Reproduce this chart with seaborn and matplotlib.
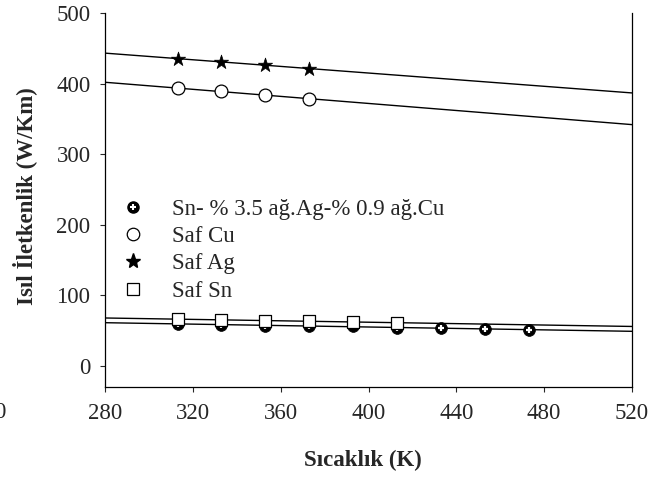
import numpy as np
import pandas as pd
import matplotlib
matplotlib.use("Agg")
import matplotlib.pyplot as plt
from matplotlib.lines import Line2D
import seaborn as sns

# data
T_alloy = [313, 333, 353, 373, 393, 413, 433, 453, 473]
k_alloy = [59, 58, 57, 57, 56, 54, 53, 52, 51]
T_cu = [313, 333, 353, 373]
k_cu = [393, 389, 384, 378]
T_ag = [313, 333, 353, 373]
k_ag = [435, 431, 426, 421]
T_sn = [313, 333, 353, 373, 393, 413]
k_sn = [66, 65, 64, 63, 62, 61]

labels = ["Sn- % 3.5 ağ.Ag-% 0.9 ağ.Cu", "Saf Cu", "Saf Ag", "Saf Sn"]
xticks = [280, 320, 360, 400, 440, 480, 520]
yticks = [0, 100, 200, 300, 400, 500]

FS = 16.5

sns.set_style("ticks")
plt.rcParams['font.family'] = ['Liberation Serif', 'DejaVu Serif']
plt.rcParams['font.size'] = FS

fig = plt.figure(figsize=(6.61, 4.8), dpi=100)
ax = fig.add_axes([0.159, 0.194, 0.797, 0.779])
ax.set_xlim(280, 520)
ax.set_ylim(-30, 500)

# fitted lines across the whole axis
for T, k in [(T_alloy, k_alloy), (T_cu, k_cu), (T_ag, k_ag), (T_sn, k_sn)]:
    sns.regplot(x=T, y=k, ax=ax, scatter=False, ci=None, truncate=False,
                line_kws=dict(color='black', lw=1.0, zorder=2))

# alloy: black dot with a white cross
sns.scatterplot(x=T_alloy, y=k_alloy, ax=ax, marker='o', s=72, color='black',
                edgecolor='black', linewidth=0.5, zorder=3)
ax.scatter(T_alloy, k_alloy, marker='+', s=20, color='white', linewidths=1.6, zorder=4)
sns.scatterplot(x=T_sn, y=k_sn, ax=ax, marker='s', s=82, color='white',
                edgecolor='black', linewidth=0.9, zorder=5)
sns.scatterplot(x=T_cu, y=k_cu, ax=ax, marker='o', s=85, color='white',
                edgecolor='black', linewidth=0.9, zorder=5)
sns.scatterplot(x=T_ag, y=k_ag, ax=ax, marker='*', s=115, color='black',
                edgecolor='black', linewidth=0.5, zorder=5)

ax.set_xticks(xticks)
ax.set_yticks(yticks)
ax.tick_params(direction='out', length=3.5, width=0.8, labelsize=FS)
ax.tick_params(axis='x', pad=8)
ax.tick_params(axis='y', pad=7)
sns.despine(ax=ax, top=True, right=False)
for s in ['left', 'bottom', 'right']:
    ax.spines[s].set_linewidth(0.9)
    ax.spines[s].set_color('black')

ax.set_xlabel("Sıcaklık (K)", fontweight='bold', fontsize=FS)
ax.set_ylabel("Isıl İletkenlik (W/Km)", fontweight='bold', fontsize=FS)
ax.xaxis.set_label_coords(0.49, -0.198)
ax.xaxis.label.set_va('center')
ax.yaxis.set_label_coords(-0.152, 0.51)
ax.yaxis.label.set_va('center')

h_alloy = (Line2D([], [], ls='', marker='o', ms=8, mfc='black', mec='black'),
           Line2D([], [], ls='', marker='+', ms=4, mec='white', mew=1.5))
h_cu = Line2D([], [], ls='', marker='o', ms=9, mfc='white', mec='black', mew=0.9)
h_ag = Line2D([], [], ls='', marker='*', ms=11, mfc='black', mec='black')
h_sn = Line2D([], [], ls='', marker='s', ms=8.5, mfc='white', mec='black', mew=0.9)
ax.legend([h_alloy, h_cu, h_ag, h_sn], labels, loc='upper left',
          bbox_to_anchor=(0.027, 0.503), frameon=False, fontsize=FS,
          borderpad=0, borderaxespad=0,
          handlelength=1.2, handletextpad=1.11, labelspacing=0.27)

# clipped stray label at the far left edge
fig.text(-0.009, 0.14, "0", ha='left', va='center', fontsize=FS)

fig.savefig("out.png", dpi=100)
